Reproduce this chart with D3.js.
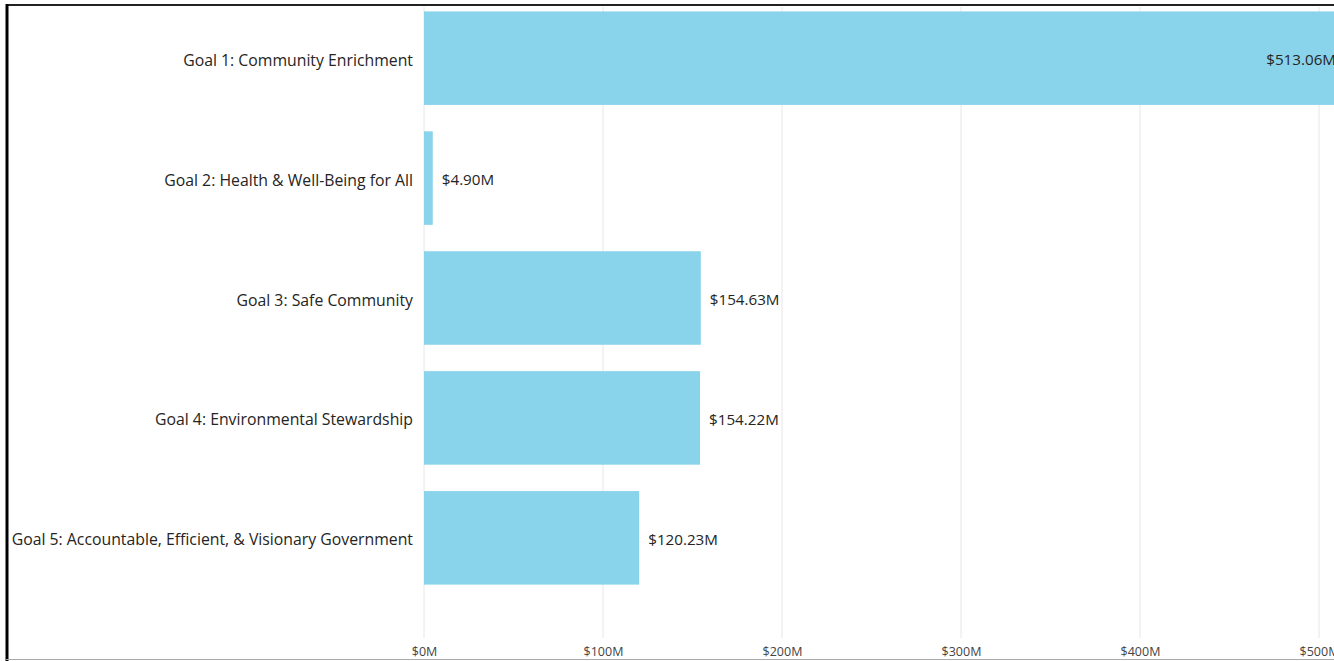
<!DOCTYPE html>
<html>
<head>
<meta charset="utf-8">
<script src="https://cdn.jsdelivr.net/npm/d3@7"></script>
<style>
  body { margin: 0; background: #fff; overflow: hidden; }
  svg { display: block; font-family: "Open Sans", Lato, sans-serif; }
</style>
</head>
<body>
<svg width="1334" height="661"></svg>
<script>
const svg = d3.select("svg");

// datos
const goals = [
  "Goal 1: Community Enrichment",
  "Goal 2: Health & Well-Being for All",
  "Goal 3: Safe Community",
  "Goal 4: Environmental Stewardship",
  "Goal 5: Accountable, Efficient, & Visionary Government"
];
const amounts = [513.06, 4.90, 154.63, 154.22, 120.23];
const tickValues = [0, 100, 200, 300, 400, 500];

const xScale = d3.scaleLinear().domain([0, 500]).range([424, 1319]);
const yScale = d3.scaleBand().domain(goals).range([0, 602]).paddingInner(0.22).paddingOuter(0.12);
const offsetY = -3;

const chart = svg.append("g").attr("transform", `translate(0,${offsetY})`);

// lineas de cuadricula
chart.selectAll(".grid")
  .data(tickValues)
  .join("line")
  .attr("x1", d => xScale(d))
  .attr("x2", d => xScale(d))
  .attr("y1", 10)
  .attr("y2", 641)
  .attr("stroke", "#e6e6e6")
  .attr("stroke-width", 1);

// barras
chart.selectAll(".bar")
  .data(goals)
  .join("rect")
  .attr("x", xScale(0))
  .attr("y", d => yScale(d))
  .attr("width", (d, i) => xScale(amounts[i]) - xScale(0))
  .attr("height", yScale.bandwidth())
  .attr("fill", "#8AD4EB");

// etiquetas de categoria
chart.selectAll(".cat")
  .data(goals)
  .join("text")
  .attr("x", 413)
  .attr("y", d => yScale(d) + yScale.bandwidth() / 2 + 2)
  .attr("dy", "0.35em")
  .attr("text-anchor", "end")
  .attr("font-size", "15.8px")
  .attr("fill", "#252423")
  .text(d => d);

// etiquetas de valor
chart.selectAll(".val")
  .data(goals)
  .join("text")
  .attr("x", (d, i) => xScale(amounts[i]) > 1334 ? 1336 : xScale(amounts[i]) + 9)
  .attr("y", d => yScale(d) + yScale.bandwidth() / 2 + 2)
  .attr("dy", "0.35em")
  .attr("text-anchor", (d, i) => xScale(amounts[i]) > 1334 ? "end" : "start")
  .attr("font-size", "15.2px")
  .attr("fill", "#252423")
  .text((d, i) => "$" + amounts[i].toFixed(2) + "M");

// eje x
const xAxis = d3.axisBottom(xScale)
  .tickValues(tickValues)
  .tickFormat(d => "$" + d + "M")
  .tickSize(0)
  .tickPadding(0);

const axisG = svg.append("g")
  .attr("transform", "translate(0,647)")
  .call(xAxis);
axisG.select(".domain").remove();
axisG.selectAll("text")
  .attr("font-size", "12.5px")
  .attr("font-family", "'Open Sans', sans-serif")
  .attr("fill", "#444");

// marco
svg.append("line").attr("x1", 6).attr("y1", 5).attr("x2", 1334).attr("y2", 5).attr("stroke", "#222").attr("stroke-width", 2);
svg.append("line").attr("x1", 7).attr("y1", 4).attr("x2", 7).attr("y2", 661).attr("stroke", "#000").attr("stroke-width", 3);
svg.append("line").attr("x1", 6).attr("y1", 659.5).attr("x2", 1334).attr("y2", 659.5).attr("stroke", "#aaa").attr("stroke-width", 1);
</script>
</body>
</html>
